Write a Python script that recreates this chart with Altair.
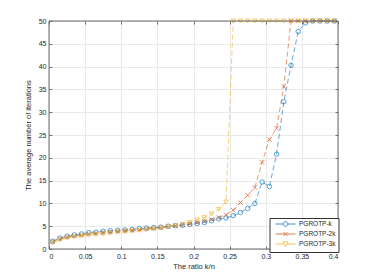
import altair as alt
import pandas as pd

ratio = [0.005, 0.015, 0.025, 0.035, 0.045, 0.055, 0.065, 0.075, 0.085, 0.095,
         0.105, 0.115, 0.125, 0.135, 0.145, 0.155, 0.165, 0.175, 0.185, 0.195,
         0.205, 0.215, 0.225, 0.235, 0.245, 0.255, 0.265, 0.275, 0.285, 0.295,
         0.305, 0.315, 0.325, 0.335, 0.345, 0.355, 0.365, 0.375, 0.385, 0.395]

pgrotp_k = [1.7, 2.4, 2.8, 3.1, 3.3, 3.6, 3.7, 3.9, 4.0, 4.1,
            4.2, 4.3, 4.5, 4.6, 4.7, 4.8, 5.0, 5.1, 5.2, 5.4,
            5.6, 5.8, 6.2, 6.6, 6.8, 7.3, 8.0, 8.9, 10.0, 14.7,
            13.7, 20.8, 32.3, 40.3, 47.7, 49.6, 50, 50, 50, 50]

pgrotp_2k = [1.6, 2.2, 2.6, 2.9, 3.1, 3.3, 3.4, 3.6, 3.7, 3.9,
             4.0, 4.1, 4.2, 4.4, 4.5, 4.7, 4.9, 5.1, 5.3, 5.5,
             5.8, 6.1, 6.5, 6.9, 7.5, 8.5, 10.2, 11.8, 13.5, 19.0,
             24.0, 26.5, 35.6, 50, 50, 50, 50, 50, 50, 50]

pgrotp_3k = [1.3, 2.0, 2.4, 2.6, 2.8, 3.0, 3.2, 3.3, 3.4, 3.6,
             3.8, 3.9, 4.1, 4.2, 4.4, 4.6, 4.9, 5.1, 5.4, 5.85,
             6.4, 6.9, 7.7, 8.7, 10.3, 50, 50, 50, 50, 50,
             50, 50, 50, 50, 50, 50, 50, 50, 50, 50]

series_names = ["PGROTP-k", "PGROTP-2k", "PGROTP-3k"]
colors = ["#0072BD", "#D95319", "#EDB120"]
x_ticks = [0, 0.05, 0.1, 0.15, 0.2, 0.25, 0.3, 0.35, 0.4]
y_ticks = [0, 5, 10, 15, 20, 25, 30, 35, 40, 45, 50]
x_range = [0, 0.4]
y_range = [0, 50]

rows = []
for name, vals in zip(series_names, [pgrotp_k, pgrotp_2k, pgrotp_3k]):
    for r, v in zip(ratio, vals):
        rows.append({"ratio": r, "value": v, "series": name})
df = pd.DataFrame(rows)
box_df = pd.DataFrame({"x0": [x_range[0]], "x1": [x_range[1]],
                       "y0": [y_range[0]], "y1": [y_range[1]]})

FONT = "Liberation Sans"
TXT = "#262626"
AX = "#6a6a6a"
TICK = "#4d4d4d"

xscale = alt.Scale(domain=x_range, nice=False, zero=False)
yscale = alt.Scale(domain=y_range, nice=False)
cscale = alt.Scale(domain=series_names, range=colors)

x_main = alt.X("ratio:Q", scale=xscale, title="The ratio k/n",
               axis=alt.Axis(orient="bottom", values=x_ticks, format="~g", offset=-3, domain=False,
                             tickSize=3, tickColor=TICK, tickWidth=0.8, labelPadding=3,
                             labelFontSize=7, labelColor=TXT, labelFont=FONT,
                             titleFont=FONT, titleFontSize=7.5, titleColor=TXT,
                             titleFontWeight="normal", titlePadding=3,
                             grid=True, gridColor="#e3e3e3", gridWidth=0.8))
y_main = alt.Y("value:Q", scale=yscale, title="The average number of iterations",
               axis=alt.Axis(orient="left", values=y_ticks, offset=-3, domain=False,
                             tickSize=3, tickColor=TICK, tickWidth=0.8, labelPadding=3,
                             labelFontSize=7, labelColor=TXT, labelFont=FONT,
                             titleFont=FONT, titleFontSize=7.5, titleColor=TXT,
                             titleFontWeight="normal", titlePadding=6,
                             grid=True, gridColor="#e3e3e3", gridWidth=0.8))

lines = alt.Chart(df).mark_line(strokeDash=[5, 3], strokeWidth=1, opacity=0.6).encode(
    x=x_main, y=y_main,
    color=alt.Color("series:N", scale=cscale, legend=None),
    detail="series:N",
)

points = alt.Chart(df).mark_point(filled=False, size=20, strokeWidth=1, opacity=0.65).encode(
    x=alt.X("ratio:Q", scale=xscale,
            axis=alt.Axis(orient="top", values=x_ticks, offset=-3, domain=False,
                          tickSize=3, tickColor=TICK, tickWidth=0.8, labels=False, title=None, grid=False)),
    y=alt.Y("value:Q", scale=yscale,
            axis=alt.Axis(orient="right", values=y_ticks, offset=-3, domain=False,
                          tickSize=3, tickColor=TICK, tickWidth=0.8, labels=False, title=None, grid=False)),
    color=alt.Color("series:N", scale=cscale, legend=None),
    shape=alt.Shape("series:N", scale=alt.Scale(
        domain=series_names,
        range=["circle", "M-1,-1L1,1M-1,1L1,-1", "triangle-down"]), legend=None),
)

leg_paths = [
    "M-3.33,0H-0.8M0.8,0H3.33M0.8,0A0.8,0.8,0,1,1,-0.8,0A0.8,0.8,0,1,1,0.8,0",
    "M-3.33,0H3.33M-0.65,-0.65L0.65,0.65M-0.65,0.65L0.65,-0.65",
    "M-3.33,0H-0.6M0.6,0H3.33M-0.9,-0.7H0.9L0,0.85Z",
]
leg = alt.Legend(title=None, orient="none", legendX=220.5, legendY=197,
                 symbolSize=36, symbolStrokeWidth=1, symbolOffset=10,
                 symbolOpacity=0.75, labelOffset=10,
                 labelFont=FONT, labelFontSize=6.5, labelColor=TXT,
                 rowPadding=1, padding=2.5, strokeColor="#333333",
                 fillColor="white", cornerRadius=0, labelLimit=200)

legend_layer = alt.Chart(df).transform_filter("datum.ratio < 0").transform_calculate(
    leg="datum.series").mark_point(filled=False).encode(
    x=alt.X("ratio:Q", scale=xscale, axis=None),
    y=alt.Y("value:Q", scale=yscale, axis=None),
    color=alt.Color("leg:N", scale=cscale, legend=leg),
    shape=alt.Shape("leg:N", scale=alt.Scale(domain=series_names, range=leg_paths), legend=leg),
)

# axes box drawn through the scales
frame = alt.Chart(box_df).mark_rect(filled=False, stroke=AX, strokeWidth=1).encode(
    x=alt.X("x0:Q", scale=xscale, axis=None),
    x2="x1:Q",
    y=alt.Y("y0:Q", scale=yscale, axis=None),
    y2="y1:Q",
)

chart = alt.layer(lines, points, legend_layer, frame).resolve_scale(
    color="independent", shape="independent"
).resolve_axis(x="independent", y="independent").properties(
    width=289, height=228,
    autosize=alt.AutoSizeParams(type="none"),
    padding={"left": 41, "top": 13, "right": 28, "bottom": 23},
).configure_view(stroke=None).configure(background="white")

chart.save("out.html", embed_options={"renderer": "svg", "actions": False})
